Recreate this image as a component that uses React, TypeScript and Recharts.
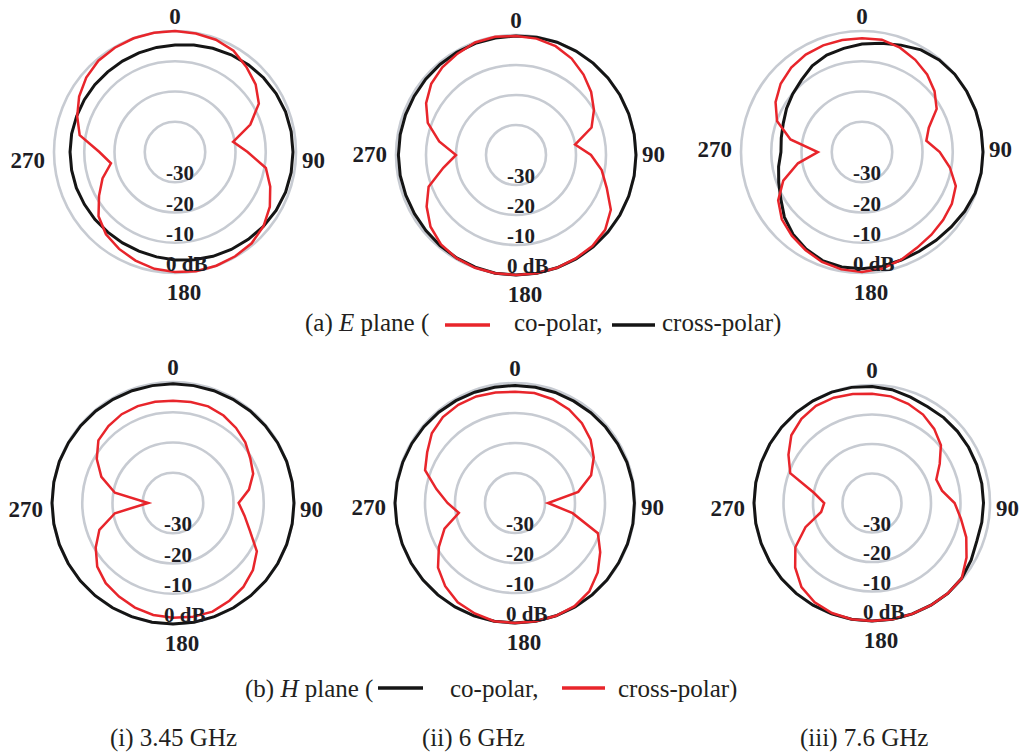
import React from 'react';
import { RadarChart, Radar, PolarGrid, PolarAngleAxis, PolarRadiusAxis } from 'recharts';

// angles in degrees, clockwise from the top
const angles = [
  0, 10, 20, 30, 40, 50, 60, 70, 80, 90, 100, 110, 120, 130, 140, 150, 160, 170,
  180, 190, 200, 210, 220, 230, 240, 250, 260, 270, 280, 290, 300, 310, 320, 330, 340, 350,
];
const angleLabels = [0, 90, 180, 270];
const radiusTicks = [-30, -20, -10, 0];

// (a) E plane, dB
const eCo345 = [0, -0.2, -0.5, -1.3, -3.3, -5.2, -8, -13.5, -20.5, -16, -9.5, -6.5, -3.8, -1.8, -0.6, -0.2, 0, 0, -0.3, -0.8, -1.8, -3, -4.5, -7, -11, -14.5, -18.5, -15, -8, -5.6, -3.4, -1.7, -0.6, -0.2, 0, 0];
const eCross345 = [-4.6, -4.1, -3.5, -2.9, -2.3, -1.8, -1.4, -1.1, -1, -1, -1, -1.1, -1.4, -1.8, -2.3, -2.8, -3.3, -3.8, -4.3, -4.8, -5.1, -5.3, -5.4, -5.4, -5.4, -5.3, -5.3, -5.3, -5.3, -5.4, -5.4, -5.4, -5.4, -5.3, -5.1, -4.9];
const eCo6 = [-0.3, -0.6, -1.4, -2.9, -5, -7.3, -10, -13.2, -20, -15, -11, -7.8, -3.5, -1.2, -0.4, -0.2, 0, 0, 0, 0, 0, -0.3, -1.1, -2.8, -5.6, -9, -15.4, -20, -14, -8.7, -5.4, -3.1, -1.8, -1, -0.1, 0];
const eCross6 = [-0.3, -0.1, 0, 0, 0, 0, 0, 0, 0, 0, 0, 0, 0, 0, 0, 0, 0, 0, 0, 0, -0.2, -0.4, -0.6, -0.8, -0.9, -0.9, -0.8, -0.8, -0.8, -0.8, -0.8, -0.7, -0.6, -0.5, -0.4, -0.4];
const eCo76 = [-2.4, -2.3, -3.3, -4.8, -6.5, -8.7, -11.5, -16.5, -18.4, -14.3, -10.5, -7, -5.7, -5, -4.3, -3.5, -2.1, -0.9, -0.3, -0.6, -1.3, -2.6, -3.9, -5.4, -8, -12.3, -18.5, -25.4, -16, -10.1, -7, -4.9, -3.6, -2.8, -2.5, -2.4];
const eCross76 = [-4.3, -3.5, -2.4, -1, -0.3, 0, 0, 0, 0, 0, 0, -0.2, -0.8, -1.5, -1.9, -2.1, -2, -1.6, -1.4, -1.4, -1.8, -3, -4.5, -6.5, -9, -10.7, -12, -13.2, -12.9, -12.3, -11.2, -10.1, -8.9, -7.1, -5.9, -5.2];

// (b) H plane, dB
const hCo345 = [-0.6, -0.6, -0.5, -0.4, -0.3, -0.2, -0.1, 0, 0, 0, 0, 0, 0, 0, 0, 0, 0, 0, 0, 0, 0, 0, 0, 0, 0, 0, 0, 0, 0, 0, -0.1, -0.2, -0.3, -0.4, -0.5, -0.6];
const hCross345 = [-6.2, -6.1, -6, -6.6, -7.6, -8.8, -10.5, -11.8, -14.5, -18.3, -16, -12.9, -8, -5.5, -3.8, -2.7, -1.8, -1.8, -2.1, -2.4, -3.2, -4.3, -5.4, -7.3, -10.5, -14.1, -20.5, -31.8, -20.5, -14.8, -10.9, -7.8, -6.8, -6.1, -5.9, -6];
const hCo6 = [-0.8, -0.8, -0.8, -0.8, -0.7, -0.6, -0.5, -0.3, -0.2, -0.2, -0.1, -0.1, -0.1, 0, 0, 0, 0, 0, 0, 0, 0, 0, 0, 0, 0, 0, 0, 0, -0.1, -0.2, -0.3, -0.4, -0.5, -0.6, -0.7, -0.8];
const hCross6 = [-2.9, -2.8, -3.2, -4, -5.3, -7.1, -9.7, -13, -18.6, -29, -20.5, -10.6, -7.2, -4, -1.5, -0.3, 0, 0, 0, 0, -0.8, -1.8, -3.8, -6.5, -10.7, -15, -21, -17.5, -13.4, -8.1, -6.2, -3.8, -2.6, -2.2, -2.2, -2.6];
const hCo76 = [-0.5, -1, -1.8, -2.3, -2.2, -2.2, -2.2, -2.2, -2.2, -2.2, -2.2, -2.2, -1.2, -0.3, 0, 0, 0, 0, 0, 0, 0, 0, 0, 0, 0, 0, 0, 0, 0, 0, 0, 0, 0, 0, 0, -0.2];
const hCross76 = [-3, -3.3, -4.2, -5.4, -7.2, -9.5, -13.5, -16.8, -15.9, -12, -9.4, -6, -3, -0.3, 0, 0, 0, 0, 0, 0, -0.3, -1.1, -2.8, -6, -10, -16, -22.5, -23.8, -20, -10.5, -7.3, -4.3, -2.8, -2, -2, -2.5];

const RED = '#e8252b';
const BLACK = '#151515';
const GRID = '#c7cbd2';
const INK = '#1d1d24';
const SERIF = '"Liberation Serif", "Times New Roman", serif';

// E plane: red = co-polar, black = cross-polar; H plane the other way round
const panels = [
  { red: eCo345, black: eCross345, cx: 175, cy: 152, r: 121, sideDy: 16 },
  { red: eCo6, black: eCross6, cx: 516, cy: 155, r: 120, sideDy: 7 },
  { red: eCo76, black: eCross76, cx: 862, cy: 152, r: 121, sideDy: 5 },
  { red: hCross345, black: hCo345, cx: 173, cy: 503, r: 121, sideDy: 14 },
  { red: hCross6, black: hCo6, cx: 515, cy: 503, r: 120, sideDy: 12 },
  { red: hCross76, black: hCo76, cx: 872, cy: 503, r: 118, sideDy: 13 },
];

const W = 360;
const H = 330;

function AngleTick({ x, y, payload, sideDy }: any) {
  const v = Number(payload.value);
  if (!angleLabels.includes(v)) return null;
  const common = { fontFamily: SERIF, fontWeight: 700, fontSize: 23, fill: INK };
  if (v === 0) return <text x={x} y={y + 1} textAnchor="middle" {...common}>0</text>;
  if (v === 90) return <text x={x - 2} y={y + sideDy} textAnchor="start" {...common}>90</text>;
  if (v === 180) return <text x={x + 9} y={y + 19} textAnchor="middle" {...common}>180</text>;
  return <text x={x - 1} y={y + sideDy} textAnchor="end" {...common}>270</text>;
}

function RadiusTick({ x, y, payload }: any) {
  const v = Number(payload.value);
  if (!radiusTicks.includes(v)) return null;
  return (
    <text x={x - 9} y={y - 2} textAnchor="start" fontFamily={SERIF} fontWeight={700} fontSize={21} fill={INK}>
      {v === 0 ? '0 dB' : String(v)}
    </text>
  );
}

function PolarPanel({ red, black, cx, cy, r, sideDy }: any) {
  const data = angles.map((a, i) => ({ angle: a, red: red[i], black: black[i] }));
  return (
    <div style={{ position: 'absolute', left: cx - W / 2, top: cy - H / 2 }}>
      <RadarChart
        width={W}
        height={H}
        data={data}
        cx={W / 2}
        cy={H / 2}
        outerRadius={r}
        startAngle={90}
        endAngle={-270}
        margin={{ top: 0, right: 0, bottom: 0, left: 0 }}
      >
        <PolarGrid gridType="circle" radialLines={false} polarRadius={[r / 4, r / 2, (3 * r) / 4, r]} stroke={GRID} strokeWidth={2.6} />
        <PolarAngleAxis dataKey="angle" axisLine={false} tickLine={false} tick={(p: any) => <AngleTick {...p} sideDy={sideDy} />} />
        <PolarRadiusAxis domain={[-40, 0]} ticks={radiusTicks} angle={-90} axisLine={false} tickLine={false} tick={(p: any) => <RadiusTick {...p} />} />
        <Radar dataKey="black" stroke={BLACK} strokeWidth={3} fill="none" fillOpacity={0} dot={false} isAnimationActive={false} />
        <Radar dataKey="red" stroke={RED} strokeWidth={2.5} fill="none" fillOpacity={0} dot={false} isAnimationActive={false} />
      </RadarChart>
    </div>
  );
}

export default function App() {
  const cap = { fontFamily: SERIF, fontSize: 25, fill: '#231f20' };
  return (
    <div style={{ position: 'relative', width: 1022, height: 754, overflow: 'hidden', background: '#fff' }}>
      <style>{'body{margin:0}'}</style>
      {panels.map((p, i) => (
        <PolarPanel key={i} {...p} />
      ))}
      <svg width={1022} height={754} style={{ position: 'absolute', left: 0, top: 0, pointerEvents: 'none' }}>
        {/* (a) caption */}
        <text x={305} y={331} {...cap}>
          {'(a) '}
          <tspan fontStyle="italic">E</tspan>
          {' plane ('}
        </text>
        <line x1={445} x2={490} y1={325} y2={325} stroke={RED} strokeWidth={3.5} />
        <text x={514} y={331} {...cap}>co-polar,</text>
        <line x1={612} x2={655} y1={325} y2={325} stroke={BLACK} strokeWidth={3.5} />
        <text x={662} y={331} {...cap}>cross-polar)</text>

        {/* (b) caption */}
        <text x={245} y={697} {...cap}>
          {'(b) '}
          <tspan fontStyle="italic">H</tspan>
          {' plane ('}
        </text>
        <line x1={378} x2={423} y1={688} y2={688} stroke={BLACK} strokeWidth={3.5} />
        <text x={450} y={697} {...cap}>co-polar,</text>
        <line x1={562} x2={605} y1={688} y2={688} stroke={RED} strokeWidth={3.5} />
        <text x={618} y={697} {...cap}>cross-polar)</text>

        {/* frequencies */}
        <text x={110} y={746} {...cap}>(i) 3.45 GHz</text>
        <text x={422} y={746} {...cap}>(ii) 6 GHz</text>
        <text x={800} y={746} {...cap}>(iii) 7.6 GHz</text>
      </svg>
    </div>
  );
}
